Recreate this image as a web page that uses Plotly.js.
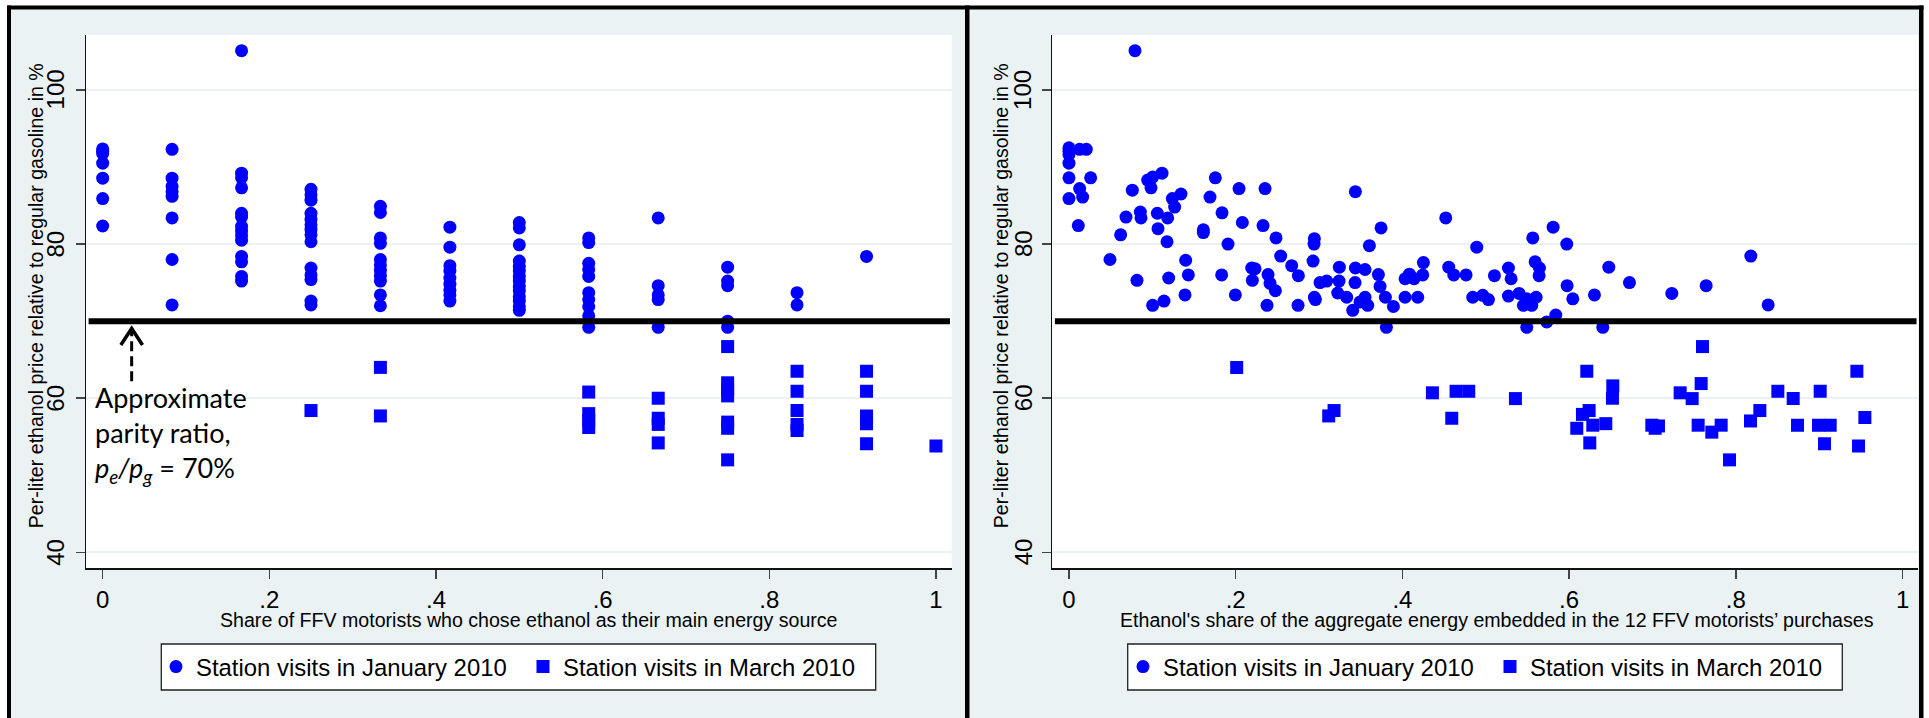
<!DOCTYPE html>
<html>
<head>
<meta charset="utf-8">
<script src="https://cdn.plot.ly/plotly-3.0.1.min.js"></script>
<style>
html,body{margin:0;padding:0;background:#ffffff;}
#chart{width:1929px;height:718px;}
</style>
</head>
<body>
<div id="chart"></div>
<script>
// ---------------- DATA ----------------
// Left panel: share of the 12 FFV motorists who chose ethanol (columns)
const shareCols = [0, 0.0833, 0.1667, 0.25, 0.3333, 0.4167, 0.5, 0.5833, 0.6667, 0.75, 0.8333, 0.9167, 1];
// Price ratio (%) of January 2010 station visits, per column
const janByCol = [
  [92.35, 92.05, 91.75, 90.5, 88.55, 85.9, 82.35],
  [92.3, 88.55, 87.5, 86.8, 86.2, 83.4, 78.0, 72.1],
  [105.1, 89.2, 88.6, 87.3, 84.0, 83.5, 82.3, 81.7, 81.1, 80.5, 78.4, 77.7, 75.8, 75.2],
  [87.1, 86.4, 85.7, 84.0, 83.2, 82.5, 81.9, 81.2, 80.3, 76.9, 76.0, 75.4, 72.6, 72.1],
  [84.9, 84.1, 80.8, 80.1, 78.0, 77.3, 76.6, 75.9, 75.2, 73.4, 72.0],
  [82.2, 79.6, 77.2, 76.5, 75.6, 74.8, 74.0, 73.4, 72.6],
  [82.8, 82.1, 79.9, 77.8, 77.1, 76.5, 75.8, 75.2, 74.5, 73.9, 73.2, 72.6, 71.9, 71.4],
  [80.8, 80.2, 77.5, 76.7, 75.8, 73.7, 72.8, 71.9, 70.7, 69.2],
  [83.4, 74.6, 73.4, 72.8, 69.2],
  [77.0, 75.2, 74.6, 70.0, 69.2],
  [73.7, 72.1],
  [78.4],
  []
];
// Price ratio (%) of March 2010 station visits, per column
const marByCol = [
  [], [], [], [58.4], [64.0, 57.7], [], [],
  [60.8, 58.0, 57.1, 56.2],
  [60.0, 57.4, 56.6, 54.2],
  [66.7, 62.0, 61.1, 60.3, 56.9, 56.1, 52.0],
  [63.5, 60.9, 58.4, 56.6, 55.8],
  [63.5, 60.9, 57.7, 56.7, 54.1],
  [53.8]
];

// Right panel: ethanol's share of aggregate energy (x) and price ratio (y)
const rightJanX = [0.0792,0,0,0,0.0128,0.0208,0,0,0.026,0.0128,0.0164,0,0.0112,0.0492,0.062,0.0684,0.076,0.0816,0.0856,0.0864,
  0.0944,0.1004,0.0984,0.1116,0.106,0.1068,0.1184,0.1176,0.124,0.1268,0.1344,0.1004,0.114,0.1196,0.14,0.1432,0.1392,0.1612,0.1612,0.1692,
  0.1756,0.1836,0.1908,0.1832,0.1996,0.204,0.208,0.2192,0.2232,0.22,0.2352,0.2328,0.2388,0.2412,0.2476,0.2376,0.2484,0.254,0.2672,0.2752,
  0.2748,0.2944,0.294,0.2928,0.2944,0.2956,0.3012,0.3092,0.3244,0.324,0.3224,0.3332,0.3436,0.3436,0.3552,0.3432,0.3552,0.3492,0.3584,0.3404,
  0.3604,0.3744,0.3712,0.3732,0.3796,0.3892,0.3808,0.4032,0.4084,0.414,0.4244,0.4252,0.4032,0.4184,0.452,0.4556,0.4616,0.4764,0.4892,0.4844,
  0.4964,0.5032,0.5104,0.5272,0.5304,0.5272,0.54,0.5452,0.5492,0.5552,0.5604,0.5492,0.5564,0.5592,0.5644,0.564,0.5808,0.5972,0.5732,0.584,
  0.5976,0.6044,0.6304,0.6404,0.6476,0.6724,0.7232,0.7644,0.818,0.8388];
const rightJanY = [105.1,92.5,92.05,91.6,92.3,92.3,90.5,88.6,88.6,87.2,86.1,85.9,82.4,78.0,81.2,83.5,87.0,75.3,84.15,83.4,
  88.3,88.7,87.3,89.2,84.0,82.0,83.4,80.3,85.9,84.8,86.5,72.05,72.6,75.6,77.9,76.0,73.4,81.85,81.5,86.1,
  88.6,84.05,80.0,76.0,73.4,87.2,82.8,76.9,76.8,75.3,87.2,82.4,76.05,74.9,73.95,72.05,80.8,78.45,77.2,75.9,
  72.05,80.7,80.0,77.8,73.1,72.8,75.0,75.2,77.0,75.2,73.65,73.1,86.8,76.9,76.7,75.0,73.1,72.5,72.05,71.4,
  79.8,82.1,76.05,74.5,73.1,71.9,69.2,75.5,76.1,75.5,76.0,77.6,73.1,73.1,83.4,77.0,76.0,76.0,79.6,73.1,
  73.35,72.8,75.9,76.9,75.5,73.25,73.6,72.05,72.9,72.05,73.1,69.2,80.8,77.7,76.9,75.9,82.2,80.0,69.9,70.8,
  74.6,72.9,73.4,69.2,77.0,75.0,73.6,74.6,78.45,72.1];
const rightMarX = [0.2012,0.3116,0.318,0.436,0.4644,0.4796,0.4592,0.5356,0.6212,0.616,0.624,0.6092,0.6284,0.644,0.6248,0.6524,0.652,0.6992,0.7032,0.7072,
  0.7332,0.7476,0.7584,0.76,0.7548,0.7712,0.7824,0.7924,0.8176,0.8288,0.8504,0.8688,0.874,0.9012,0.8992,0.9132,0.9064,0.9452,0.9548,0.9472];
const rightMarY = [63.97,57.7,58.4,60.7,60.9,60.9,57.4,59.95,63.5,57.9,58.4,56.1,56.5,56.7,54.2,61.6,60.0,56.5,56.1,56.4,
  60.7,59.95,61.9,66.7,56.5,55.6,56.5,52.0,57.05,58.4,60.9,59.95,56.5,60.9,56.5,56.5,54.1,63.5,57.5,53.8];

// Axis ticks and texts
const xTickVals = [0, 0.2, 0.4, 0.6, 0.8, 1];
const xTickText = ['0', '.2', '.4', '.6', '.8', '1'];
const yTickVals = [40, 60, 80, 100];
const parityRatio = 70;
const seriesNames = ['Station visits in January 2010', 'Station visits in March 2010'];
const leftXTitle = 'Share of FFV motorists who chose ethanol as their main energy source';
const rightXTitle = "Ethanol's share of the aggregate energy embedded in the 12 FFV motorists\u2019 purchases";
const yTitle = 'Per-liter ethanol price relative to regular gasoline in %';

// ---------------- BUILD ----------------
function flatten(byCol) {
  const x = [], y = [];
  byCol.forEach((vals, i) => vals.forEach(v => { x.push(shareCols[i]); y.push(v); }));
  return {x, y};
}
const leftJan = flatten(janByCol);
const leftMar = flatten(marByCol);

const W = 1929, H = 718;
const fx = p => p / W;
const fy = p => 1 - p / H;
const FONT = 'Liberation Sans, Arial, sans-serif';
const BLUE = '#0000ff';
const PANEL = '#eaf2f3';

const circ = {color: BLUE, size: 13, symbol: 'circle', line: {width: 0}};
const sq = {color: BLUE, size: 13, symbol: 'square', line: {width: 0}};

const traces = [
  {type: 'scatter', mode: 'markers', x: leftJan.x, y: leftJan.y, xaxis: 'x', yaxis: 'y', marker: circ, name: seriesNames[0], legend: 'legend'},
  {type: 'scatter', mode: 'markers', x: leftMar.x, y: leftMar.y, xaxis: 'x', yaxis: 'y', marker: sq, name: seriesNames[1], legend: 'legend'},
  {type: 'scatter', mode: 'markers', x: rightJanX, y: rightJanY, xaxis: 'x2', yaxis: 'y2', marker: circ, name: seriesNames[0], legend: 'legend2'},
  {type: 'scatter', mode: 'markers', x: rightMarX, y: rightMarY, xaxis: 'x2', yaxis: 'y2', marker: sq, name: seriesNames[1], legend: 'legend2'}
];

const yDomain = [fy(568.3), fy(34.7)];
const xRange = [-0.0200, 1.0189];
const yRange = [37.93, 107.17];

function xAxis(domain, anchor) {
  return {
    domain: domain, anchor: anchor, range: xRange, fixedrange: true,
    tickvals: xTickVals, ticktext: xTickText,
    ticks: 'outside', ticklen: 9, tickwidth: 1.5, tickcolor: '#444',
    showline: true, linecolor: '#111', linewidth: 1.4, mirror: false,
    showgrid: false, zeroline: false,
    tickfont: {family: FONT, size: 24, color: '#000'}
  };
}
function yAxis(anchor) {
  return {
    domain: yDomain, anchor: anchor, range: yRange, fixedrange: true,
    tickvals: yTickVals, showticklabels: false,
    ticks: 'outside', ticklen: 9, tickwidth: 1.5, tickcolor: '#444',
    showline: true, linecolor: '#111', linewidth: 1.4,
    showgrid: true, gridcolor: PANEL, gridwidth: 2, zeroline: false
  };
}

const shapes = [
  // panel backgrounds
  {type: 'rect', xref: 'paper', yref: 'paper', x0: fx(11), x1: fx(965), y0: 0, y1: fy(9), fillcolor: PANEL, line: {width: 0}, layer: 'below'},
  {type: 'rect', xref: 'paper', yref: 'paper', x0: fx(969), x1: fx(1919), y0: 0, y1: fy(9), fillcolor: PANEL, line: {width: 0}, layer: 'below'},
  // white plot regions
  {type: 'rect', xref: 'x domain', yref: 'y domain', x0: 0, x1: 1, y0: 0, y1: 1, fillcolor: '#ffffff', line: {width: 0}, layer: 'below'},
  {type: 'rect', xref: 'x2 domain', yref: 'y2 domain', x0: 0, x1: 1, y0: 0, y1: 1, fillcolor: '#ffffff', line: {width: 0}, layer: 'below'},
  // legend boxes
  {type: 'rect', xref: 'paper', yref: 'paper', x0: fx(161.3), x1: fx(875.7), y0: fy(690), y1: fy(644), fillcolor: '#ffffff', line: {color: '#222', width: 1.3}, layer: 'below'},
  {type: 'rect', xref: 'paper', yref: 'paper', x0: fx(1127.7), x1: fx(1842.3), y0: fy(690), y1: fy(644), fillcolor: '#ffffff', line: {color: '#222', width: 1.3}, layer: 'below'},
  // panel borders
  {type: 'rect', xref: 'paper', yref: 'paper', x0: fx(7), x1: fx(1923.5), y0: fy(9.5), y1: fy(5.5), fillcolor: '#000', line: {width: 0}},
  {type: 'rect', xref: 'paper', yref: 'paper', x0: fx(7), x1: fx(11), y0: 0, y1: fy(5.5), fillcolor: '#000', line: {width: 0}},
  {type: 'rect', xref: 'paper', yref: 'paper', x0: fx(965), x1: fx(969.5), y0: 0, y1: fy(5.5), fillcolor: '#000', line: {width: 0}},
  {type: 'rect', xref: 'paper', yref: 'paper', x0: fx(1919), x1: fx(1923.5), y0: 0, y1: fy(5.5), fillcolor: '#000', line: {width: 0}},
  // parity ratio lines
  {type: 'line', xref: 'x domain', yref: 'y', x0: 0.003, x1: 0.998, y0: parityRatio, y1: parityRatio, line: {color: '#000', width: 6}, layer: 'above'},
  {type: 'line', xref: 'x2 domain', yref: 'y2', x0: 0.003, x1: 0.998, y0: parityRatio, y1: parityRatio, line: {color: '#000', width: 6}, layer: 'above'},
  // dashed arrow pointing at the parity line
  {type: 'line', xref: 'x', yref: 'y', x0: 0.0348, x1: 0.0348, y0: 62.2, y1: 68.7, line: {color: '#000', width: 3, dash: '10px,5px'}},
  {type: 'path', xref: 'x', yref: 'y', path: 'M 0.0218 66.9 L 0.0348 69.05 L 0.0478 66.9', line: {color: '#000', width: 3.5}}
];

const annotations = [
  {xref: 'paper', yref: 'paper', x: fx(93.3), y: fy(435), xanchor: 'left', yanchor: 'middle', align: 'left', showarrow: false,
   text: 'Approximate<br>parity ratio,<br><i>p<sub>e</sub>/p<sub>g</sub></i> = 70%',
   font: {family: 'Lato, Open Sans, sans-serif', size: 27, color: '#000'}},
  {xref: 'paper', yref: 'paper', x: fx(528.9), y: fy(619.5), xanchor: 'center', yanchor: 'middle', showarrow: false,
   text: leftXTitle, font: {family: FONT, size: 19.6, color: '#000'}},
  {xref: 'paper', yref: 'paper', x: fx(1497), y: fy(619.5), xanchor: 'center', yanchor: 'middle', showarrow: false,
   text: rightXTitle, font: {family: FONT, size: 19.6, color: '#000'}},
  {xref: 'paper', yref: 'paper', x: fx(36), y: fy(296.3), xanchor: 'center', yanchor: 'middle', showarrow: false, textangle: -90,
   text: yTitle, font: {family: FONT, size: 19.6, color: '#000'}},
  {xref: 'paper', yref: 'paper', x: fx(1001), y: fy(296.3), xanchor: 'center', yanchor: 'middle', showarrow: false, textangle: -90,
   text: yTitle, font: {family: FONT, size: 19.6, color: '#000'}}
];
// rotated y tick labels (Stata style) for both panels
[['y', 55.5], ['y2', 1023]].forEach(([yr, xp]) => {
  yTickVals.forEach(v => annotations.push({
    xref: 'paper', yref: yr, x: fx(xp), y: v, xanchor: 'center', yanchor: 'middle', showarrow: false, textangle: -90,
    text: String(v), font: {family: FONT, size: 24, color: '#000'}
  }));
});

function legendCfg(xLeft) {
  return {
    orientation: 'h', x: fx(xLeft), y: fy(667), xanchor: 'left', yanchor: 'middle',
    xref: 'paper', yref: 'paper',
    bgcolor: 'rgba(0,0,0,0)', borderwidth: 0,
    font: {family: FONT, size: 23.9, color: '#000'},
    entrywidth: 322, entrywidthmode: 'pixels', itemclick: false, itemdoubleclick: false
  };
}

const layout = {
  width: W, height: H,
  margin: {l: 0, r: 0, t: 0, b: 0, pad: 0},
  paper_bgcolor: '#ffffff', plot_bgcolor: '#ffffff',
  showlegend: true,
  xaxis: xAxis([fx(86), fx(951.7)], 'y'),
  yaxis: yAxis('x'),
  xaxis2: xAxis([fx(1052.3), fx(1918.3)], 'y2'),
  yaxis2: yAxis('x2'),
  legend: legendCfg(156),
  legend2: legendCfg(1123),
  shapes: shapes,
  annotations: annotations
};

Plotly.newPlot('chart', traces, layout, {displayModeBar: false, staticPlot: true});
</script>
</body>
</html>
